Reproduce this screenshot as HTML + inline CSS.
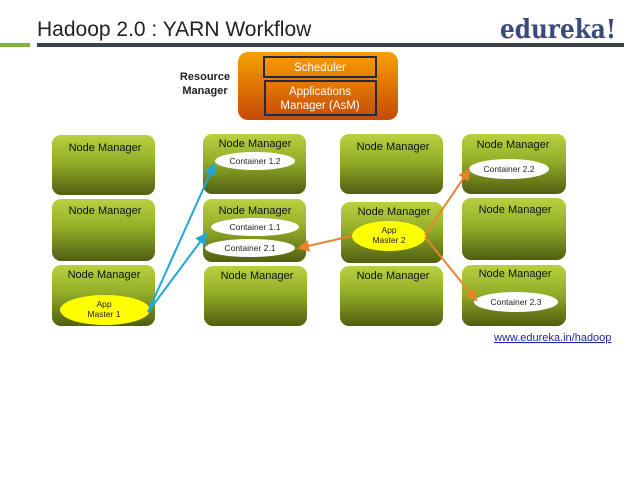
<!DOCTYPE html>
<html><head><meta charset="utf-8"><style>
html,body{margin:0;padding:0;background:#fff;}
svg{display:block;font-family:"Liberation Sans",sans-serif;}
</style></head><body>
<svg width="624" height="477" viewBox="0 0 624 477" xmlns="http://www.w3.org/2000/svg">
<defs>
<linearGradient id="g" x1="0" y1="0" x2="0" y2="1">
<stop offset="0" stop-color="#b9d040"/><stop offset="0.45" stop-color="#93ae28"/><stop offset="1" stop-color="#505e12"/>
</linearGradient>
<linearGradient id="o" x1="0" y1="0" x2="0" y2="1">
<stop offset="0" stop-color="#f7a000"/><stop offset="1" stop-color="#c64a08"/>
</linearGradient>
<marker id="ab" markerWidth="6" markerHeight="6" refX="5" refY="3" orient="auto"><path d="M0,0 L6,3 L0,6 z" fill="#1fa8d8"/></marker>
<marker id="ao" markerWidth="6" markerHeight="6" refX="5" refY="3" orient="auto"><path d="M0,0 L6,3 L0,6 z" fill="#e8832a"/></marker>
</defs>
<text x="37" y="36" font-size="21" fill="#222">Hadoop 2.0 : YARN Workflow</text>
<text x="500" y="38" font-size="26" font-weight="bold" fill="#3a4a7a" font-family="DejaVu Serif, serif" textLength="116" lengthAdjust="spacingAndGlyphs">edureka!</text>
<rect x="0" y="43" width="30" height="4" fill="#7ab23c"/>
<rect x="37" y="43" width="587" height="4" fill="#3c4248"/>
<text x="205" y="80" font-size="11" font-weight="bold" text-anchor="middle" fill="#222">Resource</text>
<text x="205" y="94" font-size="11" font-weight="bold" text-anchor="middle" fill="#222">Manager</text>
<rect x="238" y="52" width="160" height="68" rx="10" fill="url(#o)"/>
<rect x="264" y="57" width="112" height="20" fill="none" stroke="#1d2a4a" stroke-width="2"/>
<text x="320" y="71" font-size="11.5" text-anchor="middle" fill="#fff">Scheduler</text>
<rect x="265" y="81" width="111" height="34" fill="none" stroke="#1d2a4a" stroke-width="2"/>
<text x="320" y="95" font-size="11.5" text-anchor="middle" fill="#fff">Applications</text>
<text x="320" y="109" font-size="11.5" text-anchor="middle" fill="#fff">Manager (AsM)</text>
<g fill="url(#g)">
<rect x="52" y="135" width="103" height="60" rx="9"/>
<rect x="52" y="199" width="103" height="62" rx="9"/>
<rect x="52" y="265" width="103" height="61" rx="9"/>
<rect x="203" y="134" width="103" height="60" rx="9"/>
<rect x="203" y="199" width="103" height="63" rx="9"/>
<rect x="204" y="266" width="103" height="60" rx="9"/>
<rect x="340" y="134" width="103" height="60" rx="9"/>
<rect x="341" y="202" width="102" height="61" rx="9"/>
<rect x="340" y="266" width="103" height="60" rx="9"/>
<rect x="462" y="134" width="104" height="60" rx="9"/>
<rect x="462" y="198" width="104" height="62" rx="9"/>
<rect x="462" y="265" width="104" height="61" rx="9"/>
</g>
<g font-size="11" text-anchor="middle" fill="#111">
<text x="105" y="151">Node Manager</text>
<text x="105" y="214">Node Manager</text>
<text x="104" y="278">Node Manager</text>
<text x="255" y="147">Node Manager</text>
<text x="255" y="214">Node Manager</text>
<text x="257" y="279">Node Manager</text>
<text x="393" y="150">Node Manager</text>
<text x="394" y="215">Node Manager</text>
<text x="393" y="279">Node Manager</text>
<text x="513" y="148">Node Manager</text>
<text x="515" y="213">Node Manager</text>
<text x="515" y="277">Node Manager</text>
</g>
<g fill="#fff">
<ellipse cx="255" cy="161" rx="40" ry="9"/>
<ellipse cx="255" cy="227" rx="44" ry="9"/>
<ellipse cx="250" cy="248" rx="45" ry="9"/>
<ellipse cx="509" cy="169" rx="40" ry="10"/>
<ellipse cx="516" cy="302" rx="42" ry="10"/>
</g>
<g fill="#ffff00">
<ellipse cx="105" cy="310" rx="45" ry="15"/>
<ellipse cx="389" cy="236" rx="37" ry="15"/>
</g>
<g font-size="8.5" text-anchor="middle" fill="#222">
<text x="255" y="164">Container 1.2</text>
<text x="255" y="230">Container 1.1</text>
<text x="250" y="251">Container 2.1</text>
<text x="509" y="172">Container 2.2</text>
<text x="516" y="305">Container 2.3</text>
<text x="104" y="307">App</text>
<text x="104" y="317">Master 1</text>
<text x="389" y="233">App</text>
<text x="389" y="243">Master 2</text>
</g>
<g stroke="#1fa8d8" stroke-width="2" fill="none">
<line x1="148" y1="312" x2="214" y2="165" marker-end="url(#ab)"/>
<line x1="148" y1="312" x2="206" y2="234" marker-end="url(#ab)"/>
</g>
<g stroke="#e8832a" stroke-width="2" fill="none">
<line x1="352" y1="236" x2="299" y2="248" marker-end="url(#ao)"/>
<line x1="425" y1="235" x2="469" y2="170" marker-end="url(#ao)"/>
<line x1="425" y1="237" x2="476" y2="300" marker-end="url(#ao)"/>
</g>
<text x="494" y="341" font-size="11" fill="#1a2aa8" text-decoration="underline">www.edureka.in/hadoop</text>
</svg>
</body></html>
